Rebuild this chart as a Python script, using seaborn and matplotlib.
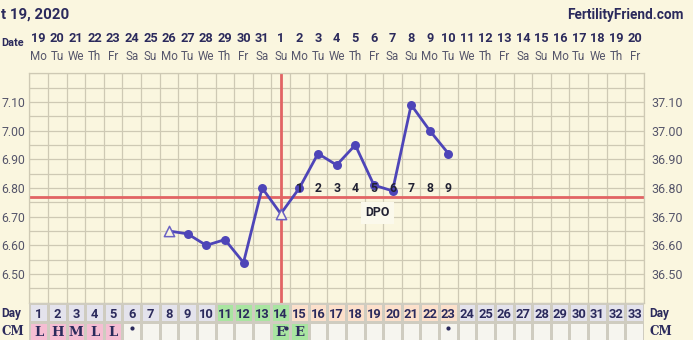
import matplotlib
matplotlib.use("Agg")
import matplotlib.pyplot as plt
import numpy as np
import pandas as pd
import seaborn as sns
from matplotlib.colors import ListedColormap
from matplotlib import transforms

# ---------------- data ----------------
title_text = "t 19, 2020"
site_text = "FertilityFriend.com"
date_nums = [19, 20, 21, 22, 23, 24, 25, 26, 27, 28, 29, 30, 31,
             1, 2, 3, 4, 5, 6, 7, 8, 9, 10, 11, 12, 13, 14, 15, 16, 17, 18, 19, 20]
weekdays = ["Mo", "Tu", "We", "Th", "Fr", "Sa", "Su"] * 4 + ["Mo", "Tu", "We", "Th", "Fr"]
cycle_days = list(range(1, 34))

temp_days = [8, 9, 10, 11, 12, 13, 14, 15, 16, 17, 18, 19, 20, 21, 22, 23]
temps = [6.65, 6.64, 6.60, 6.62, 6.54, 6.80, 6.71, 6.80, 6.92, 6.88, 6.95,
         6.81, 6.79, 7.09, 7.00, 6.92]
open_days = [8, 14]
coverline = 6.77
ovulation_day = 14

dpo_days = [15, 16, 17, 18, 19, 20, 21, 22, 23]
dpo_labels = ["1", "2", "3", "4", "5", "6", "7", "8", "9"]
dpo_label_temp = 6.80

f_ticks = [6.50, 6.60, 6.70, 6.80, 6.90, 7.00, 7.10]
f_labels = ["6.50", "6.60", "6.70", "6.80", "6.90", "7.00", "7.10"]
c_labels = ["36.50", "36.60", "36.70", "36.80", "36.90", "37.00", "37.10"]

day_row_codes = [0] * 10 + [1] * 4 + [2] * 9 + [0] * 10
cm_row_codes = [3] * 5 + [4] * 8 + [1] * 2 + [4] * 18
cm_days = [1, 2, 3, 4, 5, 14, 15]
cm_letters = ["L", "H", "M", "L", "L", "E", "E"]
cm_dot_days = [6, 23]
cm_sup_dot_days = [14]

# ---------------- style ----------------
W, H = 693, 340
BG = "#FAF6DF"
GRID = "#CEC9B4"
LINE = "#4E45B8"
RED = "#E26464"
NAVY = "#2B2A5C"
GREYTXT = "#55556A"
cell_colors = ["#E4E3EC", "#A9E5A1", "#FCE0CB", "#F5BED3", "#F6F5EF"]

sns.set_theme(style="white")
plt.rcParams["font.family"] = ["Roboto", "DejaVu Sans"]

fig = plt.figure(figsize=(W / 100, H / 100), dpi=100, facecolor=BG)

def fx(px):
    return px / W

def fy(py):
    return 1 - py / H

gl, gr, gt, gb = 29.3, 644.0, 73.3, 302.7
ax = fig.add_axes([fx(gl), fy(gb), fx(gr - gl), (gb - gt) / H])
ax.set_facecolor(BG)
ax.set_xlim(0.5, 33.5)
ax.set_ylim(6.40, 7.20)

for xv in np.arange(0.5, 34.0, 1.0):
    ax.axvline(xv, color=GRID, lw=0.9, zorder=0)
for yv in np.arange(6.40, 7.2001, 0.05):
    ax.axhline(yv, color=GRID, lw=0.9, zorder=0)
for s in ax.spines.values():
    s.set_color(GRID)
    s.set_linewidth(0.9)

df = pd.DataFrame({"day": temp_days, "temp": temps})
df["open"] = df["day"].isin(open_days)

ax.axhline(coverline, color=RED, lw=2.0, zorder=2)
ax.axvline(ovulation_day, color=RED, lw=2.0, zorder=2)

sns.lineplot(data=df, x="day", y="temp", color=LINE, lw=2.0, ax=ax, zorder=3)
sns.scatterplot(data=df[~df["open"]], x="day", y="temp", color=LINE, s=42,
                edgecolor=LINE, linewidth=0, ax=ax, zorder=4)
sns.scatterplot(data=df[df["open"]], x="day", y="temp", marker="^", s=55,
                facecolor=BG, edgecolor="#6A62C4", linewidth=1.1, ax=ax, zorder=4)

for d, lab in zip(dpo_days, dpo_labels):
    ax.text(d, dpo_label_temp, lab, ha="center", va="center", fontsize=8.8,
            fontweight="bold", color="#222233", zorder=5)
ax.text(19.2, 6.713, "DPO", ha="center", va="center", fontsize=8.8,
        fontweight="bold", color="#222233", zorder=5,
        bbox=dict(boxstyle="square,pad=0.35", facecolor="#FBF9EC", edgecolor="none"))

ax.set_xlabel("")
ax.set_ylabel("")
ax.set_xticks([])
ax.set_yticks(f_ticks)
ax.set_yticklabels(f_labels, fontsize=8.8, color=GREYTXT)
ax.tick_params(axis="y", length=0, pad=3)

ax2 = ax.twinx()
ax2.set_ylim(6.40, 7.20)
ax2.set_yticks(f_ticks)
ax2.set_yticklabels(c_labels, fontsize=9, color=GREYTXT)
ax2.tick_params(axis="y", length=0, pad=5)
for s in ax2.spines.values():
    s.set_visible(False)

# ---------------- header ----------------
xtr = transforms.blended_transform_factory(ax.transData, fig.transFigure)
for d, num, wd in zip(cycle_days, date_nums, weekdays):
    ax.text(d, fy(38.7), str(num), transform=xtr, ha="center", va="center",
            fontsize=9.2, fontweight="bold", color=NAVY)
    ax.text(d, fy(57), wd, transform=xtr, ha="center", va="center",
            fontsize=8.4, color=GREYTXT)
fig.text(fx(1), fy(43), "Date", ha="left", va="center", fontsize=7.8,
         fontweight="bold", color=NAVY)
fig.text(fx(1), fy(15), title_text, ha="left", va="center", fontsize=10.8,
         fontweight="bold", color=NAVY)
fig.text(fx(684), fy(15), site_text, ha="right", va="center", fontsize=9.8,
         fontweight="bold", color=NAVY)

# ---------------- day / CM rows ----------------
bax = fig.add_axes([fx(gl), fy(341.0), fx(gr - gl), (341.0 - gb) / H])
codes = np.array([day_row_codes, cm_row_codes])
sns.heatmap(codes, cmap=ListedColormap(cell_colors), vmin=-0.5, vmax=4.5,
            cbar=False, linewidths=0.9, linecolor="#CFCCC0", ax=bax,
            xticklabels=False, yticklabels=False)
for d in cycle_days:
    bax.text(d - 0.5, 0.52, str(d), ha="center", va="center_baseline",
             fontsize=9.3, fontweight="bold", color=NAVY)
for d, lab in zip(cm_days, cm_letters):
    bax.text(d - 0.5, 1.47, lab, ha="center", va="center_baseline",
             fontsize=9.5, fontweight="bold", color=NAVY, family="DejaVu Serif")
bax.scatter([d - 0.5 for d in cm_dot_days], [1.3] * len(cm_dot_days),
            s=9, color=NAVY, zorder=5, linewidths=0)
bax.scatter([d - 0.2 for d in cm_sup_dot_days], [1.3] * len(cm_sup_dot_days),
            s=9, color=NAVY, zorder=5, linewidths=0)

fig.text(fx(1.5), fy(311.5), "Day", ha="left", va="center_baseline", fontsize=8.6,
         fontweight="bold", color=NAVY)
fig.text(fx(1.5), fy(330), "CM", ha="left", va="center_baseline", fontsize=8.6,
         fontweight="bold", color=NAVY, family="DejaVu Serif")
fig.text(fx(649), fy(311.5), "Day", ha="left", va="center_baseline", fontsize=8.6,
         fontweight="bold", color=NAVY)
fig.text(fx(649), fy(330), "CM", ha="left", va="center_baseline", fontsize=8.6,
         fontweight="bold", color=NAVY, family="DejaVu Serif")

fig.savefig("out.png", dpi=100, facecolor=BG)
